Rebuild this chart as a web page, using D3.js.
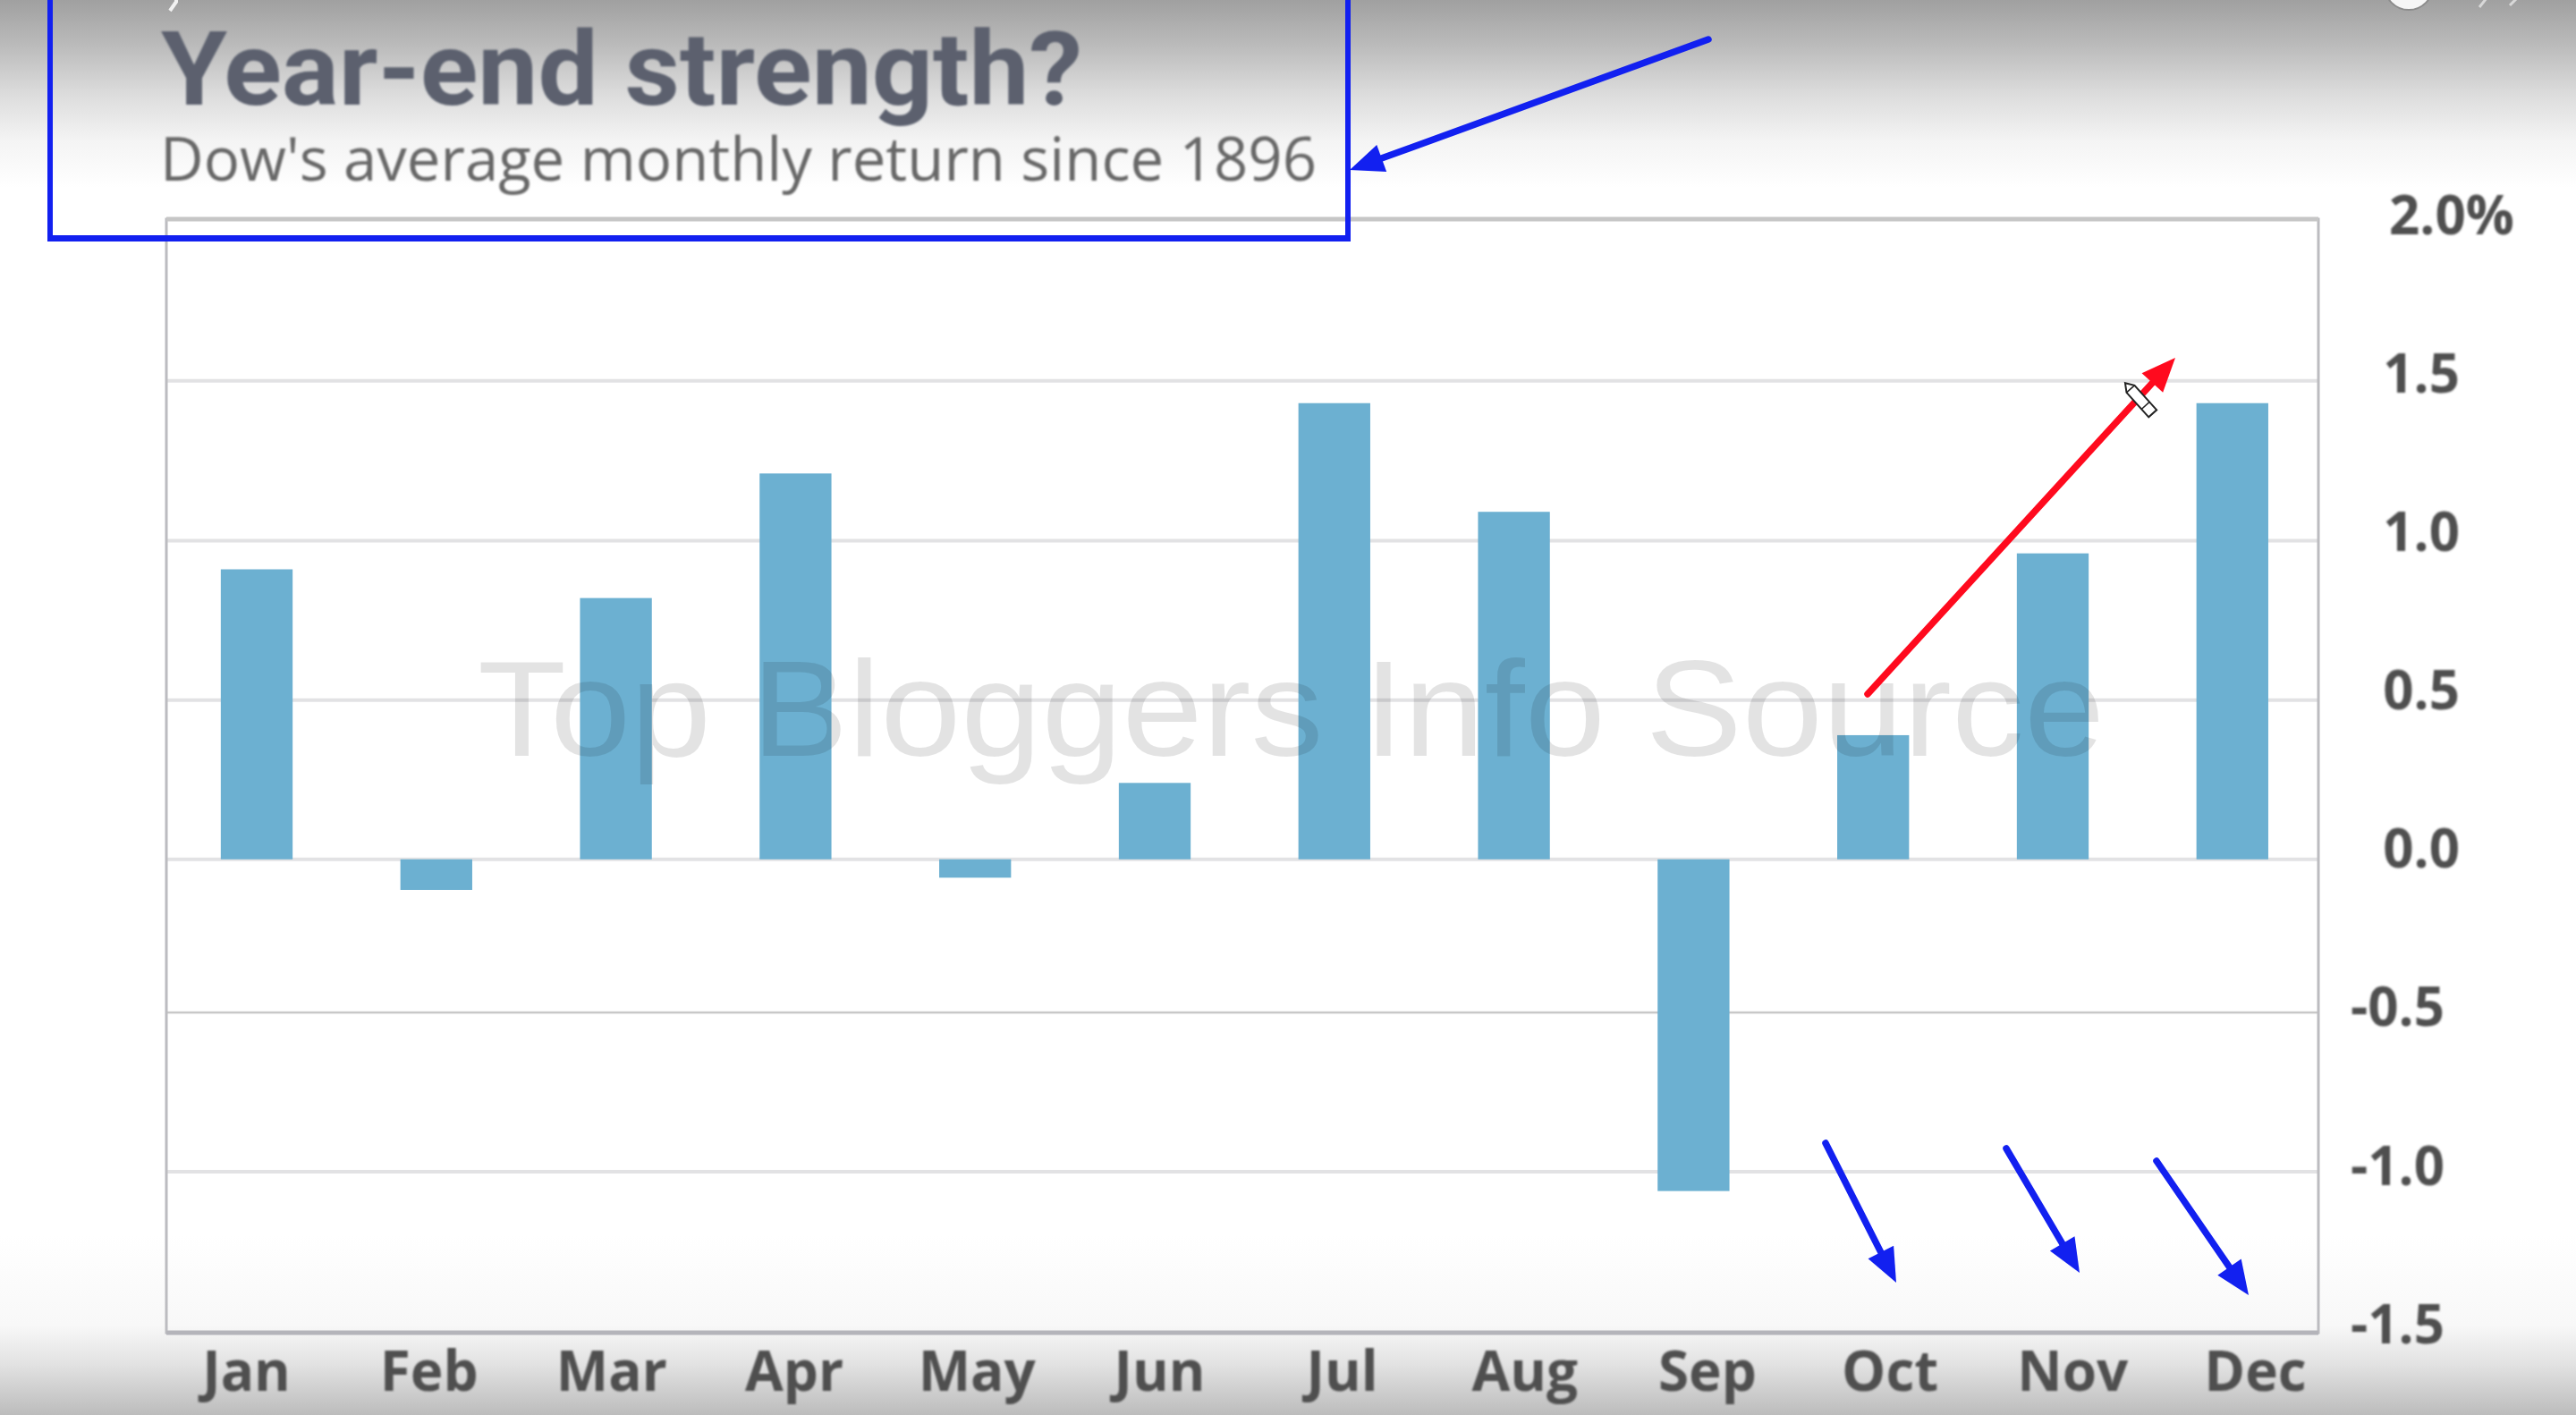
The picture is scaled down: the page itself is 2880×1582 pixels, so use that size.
<!DOCTYPE html>
<html>
<head>
<meta charset="utf-8">
<script src="https://cdn.jsdelivr.net/npm/d3@7"></script>
<style>
html, body { margin: 0; padding: 0; background: #fff; overflow: hidden; }
svg { display: block; }
</style>
</head>
<body>
<div id="chart"></div>
<script>
var months = ["Jan", "Feb", "Mar", "Apr", "May", "Jun", "Jul", "Aug", "Sep", "Oct", "Nov", "Dec"];
var returns = [0.91, -0.10, 0.82, 1.21, -0.06, 0.24, 1.43, 1.09, -1.06, 0.39, 0.96, 1.43];
var yTicks = [2, 1.5, 1, 0.5, 0, -0.5, -1, -1.5];
var yTickLabels = ["2.0%", "1.5", "1.0", "0.5", "0.0", "-0.5", "-1.0", "-1.5"];
var titleText = "Year-end strength?";
var subtitleText = "Dow's average monthly return since 1896";
var watermarkText = "Top Bloggers Info Source";

var width = 2880,
    height = 1582,
    left = 186,
    right = 2592,
    svg = d3.select("#chart").append("svg")
        .attr("width", width)
        .attr("height", height)
        .attr("viewBox", "0 0 " + width + " " + height);

// the gridlines in the picture are not quite evenly spaced, so one range stop per tick
var y = d3.scaleLinear().domain(yTicks).range([245, 425.7, 604.4, 782.8, 960.7, 1132, 1310, 1490]);
// the tick labels are evenly spaced and sit a little off the lines
var yLabel = d3.scaleLinear().domain([2, -1.5]).range([242, 1482]);
var x = d3.scaleBand().domain(months).range([186.6, 2596.2]).paddingInner(0.6).paddingOuter(0.3);
var xLabel = d3.scalePoint().domain(months).range([275, 2521]);

var defs = svg.append("defs");
var soft = defs.append("filter").attr("id", "soft").attr("x", "-5%").attr("y", "-20%").attr("width", "110%").attr("height", "140%");
soft.append("feGaussianBlur").attr("stdDeviation", 1.1);

var addGradient = function(id, y1, y2, stops) {
    var g = defs.append("linearGradient").attr("id", id)
        .attr("gradientUnits", "userSpaceOnUse")
        .attr("x1", 0).attr("x2", 0).attr("y1", y1).attr("y2", y2);
    stops.forEach(function(s) {
        g.append("stop").attr("offset", s[0]).attr("stop-color", s[1]);
    });
};
addGradient("shadeTop", 0, 210, [[0, "#a0a0a0"], [0.25, "#bcbcbc"], [0.5, "#dcdcdc"], [0.75, "#f4f4f4"], [1, "#ffffff"]]);
addGradient("shadeBottom", 1380, 1582, [[0, "#ffffff"], [0.5, "#f8f8f8"], [0.72, "#e2e2e2"], [1, "#bcbcbc"]]);

svg.append("rect").attr("width", width).attr("height", 210).attr("fill", "url(#shadeTop)");
svg.append("rect").attr("y", 1380).attr("width", width).attr("height", 202).attr("fill", "url(#shadeBottom)");

// gridlines and frame
svg.append("g").selectAll("line")
    .data(yTicks.slice(1, -1))
    .enter().append("line")
    .attr("x1", left).attr("x2", right)
    .attr("y1", function(d) { return y(d); })
    .attr("y2", function(d) { return y(d); })
    .attr("stroke", function(d) { return d == -0.5 ? "#c8c8c8" : "#e2e2e4"; })
    .attr("stroke-width", function(d) { return d == -0.5 ? 2.5 : 4; });

svg.append("rect")
    .attr("x", left).attr("y", y(2))
    .attr("width", right - left).attr("height", y(-1.5) - y(2))
    .attr("fill", "none").attr("stroke", "#bcbcc0").attr("stroke-width", 3);
svg.append("line").attr("x1", left).attr("x2", right).attr("y1", y(2)).attr("y2", y(2))
    .attr("stroke", "#c6c6c6").attr("stroke-width", 5);
svg.append("line").attr("x1", left).attr("x2", right).attr("y1", y(-1.5)).attr("y2", y(-1.5))
    .attr("stroke", "#b4b4ba").attr("stroke-width", 5);

// bars
svg.append("g").selectAll("rect")
    .data(returns)
    .enter().append("rect")
    .attr("x", function(d, i) { return x(months[i]); })
    .attr("width", x.bandwidth())
    .attr("y", function(d) { return y(Math.max(d, 0)); })
    .attr("height", function(d) { return Math.abs(y(d) - y(0)); })
    .attr("fill", "#6cb0d1");

// axes
var xAxis = svg.append("g")
    .attr("transform", "translate(0,1535)")
    .attr("filter", "url(#soft)")
    .call(d3.axisBottom(xLabel).tickSize(0).tickPadding(0));
xAxis.select(".domain").remove();
xAxis.selectAll("text")
    .attr("y", 0).attr("dy", 20)
    .attr("font-family", "'Open Sans'").attr("font-weight", 700).attr("font-size", 62)
    .attr("fill", "#4f4f4f");

var yAxis = svg.append("g")
    .attr("filter", "url(#soft)")
    .call(d3.axisRight(yLabel).tickValues(yTicks).tickSize(0).tickPadding(0)
        .tickFormat(function(d) { return yTickLabels[yTicks.indexOf(d)]; }));
yAxis.select(".domain").remove();
yAxis.selectAll("text")
    .attr("font-family", "'Open Sans'").attr("font-weight", 700).attr("font-size", 60)
    .attr("fill", "#4f4f4f")
    .attr("text-anchor", function(d) { return d == 2 ? "start" : "end"; })
    .attr("x", function(d) { return d == 2 ? 2671 : d < 0 ? 2733 : 2750; });

// titles
svg.append("text").text(titleText)
    .attr("x", 180).attr("y", 117)
    .attr("font-family", "Roboto").attr("font-weight", 700).attr("font-size", 115)
    .attr("fill", "#5b606e").attr("filter", "url(#soft)")
    .attr("textLength", 1030).attr("lengthAdjust", "spacingAndGlyphs");
svg.append("text").text(subtitleText)
    .attr("x", 179).attr("y", 202)
    .attr("font-family", "'Open Sans'").attr("font-size", 68)
    .attr("fill", "#686868").attr("filter", "url(#soft)")
    .attr("textLength", 1293).attr("lengthAdjust", "spacingAndGlyphs");

// watermark
svg.append("text").text(watermarkText)
    .attr("x", 534).attr("y", 845)
    .attr("font-family", "'Liberation Sans'").attr("font-size", 153)
    .attr("fill", "#000").attr("fill-opacity", 0.11)
    .attr("textLength", 1819).attr("lengthAdjust", "spacingAndGlyphs");

// hand drawn box and arrows on top of the chart
svg.append("rect")
    .attr("x", 56).attr("y", -20).attr("width", 1451).attr("height", 286)
    .attr("fill", "none").attr("stroke", "#1220f0").attr("stroke-width", 6);
svg.append("line").attr("x1", 53).attr("x2", 1510).attr("y1", 266.5).attr("y2", 266.5)
    .attr("stroke", "#1220f0").attr("stroke-width", 7);

var arrows = [
    { color: "#1220f0", from: [1910, 44], to: [1509, 190] },
    { color: "#ff0a1e", from: [2088, 776], to: [2432, 400] },
    { color: "#1220f0", from: [2041, 1278], to: [2120, 1434] },
    { color: "#1220f0", from: [2243, 1284], to: [2325, 1423] },
    { color: "#1220f0", from: [2411, 1298], to: [2514, 1448] }
];
var headLength = 38,
    headWidth = 32;

var arrow = svg.append("g").selectAll("g")
    .data(arrows)
    .enter().append("g");
arrow.append("line")
    .attr("x1", function(d) { return d.from[0]; })
    .attr("y1", function(d) { return d.from[1]; })
    .attr("x2", function(d) { return d3.interpolateNumber(d.to[0], d.from[0])(headLength * 0.8 / Math.hypot(d.to[0] - d.from[0], d.to[1] - d.from[1])); })
    .attr("y2", function(d) { return d3.interpolateNumber(d.to[1], d.from[1])(headLength * 0.8 / Math.hypot(d.to[0] - d.from[0], d.to[1] - d.from[1])); })
    .attr("stroke", function(d) { return d.color; })
    .attr("stroke-width", 7.5)
    .attr("stroke-linecap", "round");
arrow.append("path")
    .attr("d", "M" + (-headLength) + "," + (-headWidth / 2) + "L0,0L" + (-headLength) + "," + (headWidth / 2) + "Z")
    .attr("transform", function(d) {
        var a = Math.atan2(d.to[1] - d.from[1], d.to[0] - d.from[0]) * 180 / Math.PI;
        return "translate(" + d.to[0] + "," + d.to[1] + ") rotate(" + a + ")";
    })
    .attr("fill", function(d) { return d.color; });

// pencil cursor
var pencil = svg.append("g").attr("transform", "translate(2392,446) rotate(48)");
pencil.append("path")
    .attr("d", "M-24,0L-15,-6H22V6H-15Z")
    .attr("fill", "#fff").attr("stroke", "#222").attr("stroke-width", 2);
pencil.append("path").attr("d", "M10,-6V6M-15,-6V6").attr("fill", "none").attr("stroke", "#222").attr("stroke-width", 1.5);

// bits of the video player cut off at the top edge
svg.append("circle").attr("cx", 2693).attr("cy", -16).attr("r", 27)
    .attr("fill", "#f6f6f6").attr("stroke", "#8c8c8c").attr("stroke-width", 2);
svg.append("path").attr("d", "M2772,8L2780,-2M2806,6L2814,-2")
    .attr("fill", "none").attr("stroke", "#d8d8d8").attr("stroke-width", 3);
svg.append("path").attr("d", "M190,12L197,2V-2").attr("fill", "none").attr("stroke", "#f2f2f2").attr("stroke-width", 4);
</script>
</body>
</html>
